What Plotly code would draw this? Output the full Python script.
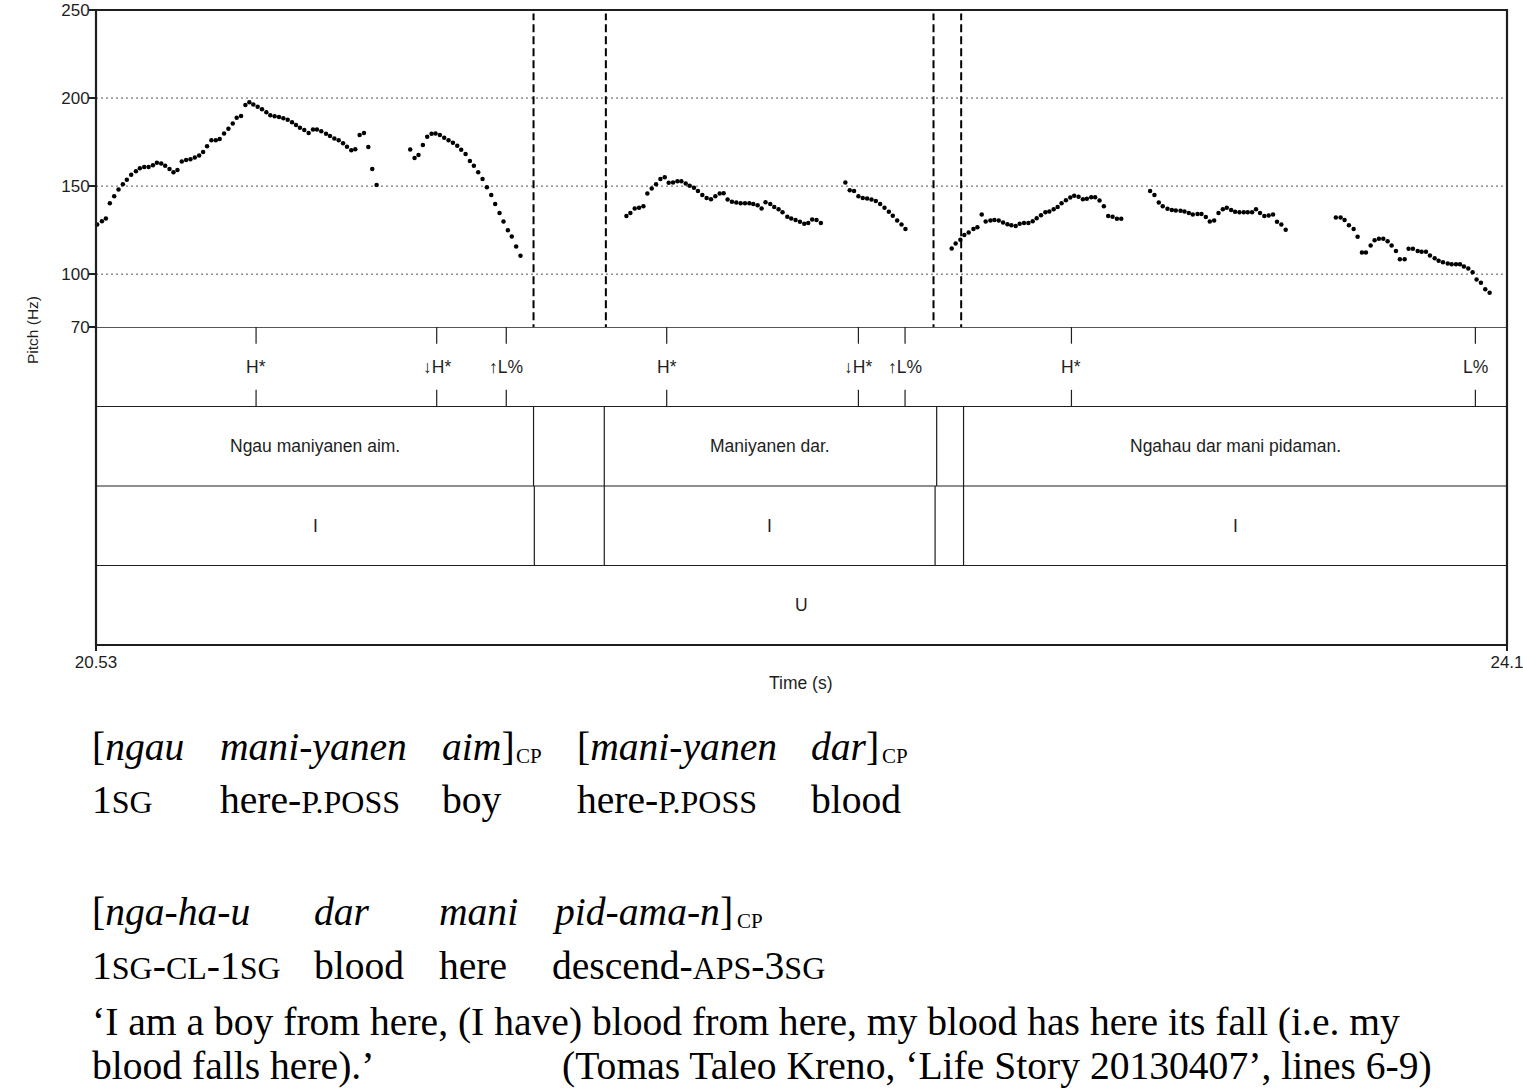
import plotly.graph_objects as go

W, H = 1523, 1092

# ---------------- pitch data (time s, Hz) ----------------
seg1_t = [20.533, 20.545, 20.555, 20.565, 20.576, 20.587, 20.598, 20.608, 20.619, 20.631,
          20.641, 20.652, 20.663, 20.674, 20.684, 20.695, 20.705, 20.716, 20.726, 20.736,
          20.747, 20.758, 20.769, 20.780, 20.791, 20.801, 20.811, 20.822, 20.833, 20.843,
          20.854, 20.865, 20.876, 20.886, 20.897, 20.908, 20.918, 20.928, 20.939, 20.950,
          20.961, 20.971, 20.982, 20.993, 21.004, 21.015, 21.026, 21.036, 21.046, 21.057,
          21.068, 21.079, 21.089, 21.100, 21.112, 21.122, 21.133, 21.144, 21.155, 21.165,
          21.176, 21.186, 21.197, 21.208, 21.219, 21.229, 21.240]
seg1_hz = [128.2, 130.1, 131.6, 140.2, 144.3, 148.1, 151.0, 153.6, 156.4, 158.5,
           160.2, 160.8, 160.8, 161.8, 163.2, 162.9, 161.5, 159.7, 157.8, 159.1,
           164.0, 164.8, 165.3, 166.3, 167.4, 169.3, 172.6, 176.0, 176.1, 176.7,
           179.9, 182.6, 185.6, 188.8, 189.8, 196.0, 197.6, 196.4, 195.1, 193.7,
           192.0, 190.3, 189.6, 189.2, 188.6, 187.7, 186.2, 184.7, 183.1, 181.8,
           180.1, 182.2, 182.2, 181.1, 179.7, 178.4, 177.1, 176.0, 174.3, 172.3,
           170.3, 171.0, 179.0, 180.1, 172.2, 159.7, 150.6]

seg2_t = [21.325, 21.336, 21.346, 21.357, 21.368, 21.379, 21.389, 21.400, 21.411, 21.422,
          21.433, 21.444, 21.454, 21.465, 21.476, 21.486, 21.497, 21.508, 21.519, 21.530,
          21.540, 21.551, 21.561, 21.572, 21.582, 21.593, 21.604]
seg2_hz = [170.8, 165.9, 167.6, 173.3, 178.0, 179.7, 179.9, 179.0, 177.4, 176.0,
           174.6, 172.9, 170.6, 168.2, 164.2, 161.5, 157.8, 154.0, 149.3, 144.9,
           139.8, 134.7, 129.9, 125.0, 121.4, 115.7, 110.4]

seg3_t = [21.872, 21.882, 21.893, 21.904, 21.915, 21.925, 21.936, 21.947, 21.958, 21.969,
          21.979, 21.990, 22.001, 22.011, 22.022, 22.032, 22.043, 22.053, 22.064, 22.075,
          22.086, 22.097, 22.108, 22.118, 22.128, 22.139, 22.150, 22.161, 22.172, 22.183,
          22.193, 22.204, 22.214, 22.224, 22.236, 22.246, 22.257, 22.267, 22.279, 22.289,
          22.300, 22.311, 22.322, 22.332, 22.342, 22.353, 22.364]
seg3_hz = [133.0, 134.8, 137.3, 137.7, 138.5, 145.8, 148.7, 151.1, 154.0, 155.1,
           151.9, 152.1, 152.8, 152.8, 151.5, 150.2, 149.0, 147.2, 144.9, 143.3,
           142.6, 144.3, 145.8, 146.0, 142.4, 141.1, 140.7, 140.3, 140.3, 140.2,
           139.9, 139.2, 137.3, 140.9, 139.8, 138.2, 136.8, 135.1, 132.6, 131.6,
           130.7, 129.7, 128.6, 129.1, 131.1, 130.7, 129.1]

seg4_t = [22.426, 22.437, 22.448, 22.459, 22.470, 22.481, 22.492, 22.503, 22.514, 22.525,
          22.536, 22.546, 22.557, 22.568, 22.578]
seg4_hz = [152.1, 147.7, 147.2, 144.3, 143.3, 143.0, 142.4, 141.5, 139.8, 137.7,
           135.4, 133.1, 130.5, 128.2, 125.6]

seg5_t = [22.695, 22.705, 22.717, 22.727, 22.738, 22.750, 22.760, 22.771, 22.781, 22.793,
          22.803, 22.814, 22.825, 22.836, 22.846, 22.857, 22.867, 22.878, 22.889, 22.900,
          22.910, 22.921, 22.932, 22.942, 22.953, 22.963, 22.973, 22.984, 22.995, 23.005,
          23.016, 23.027, 23.037, 23.048, 23.058, 23.069, 23.080, 23.091, 23.102, 23.113,
          23.124]
seg5_hz = [114.6, 117.4, 119.6, 122.2, 123.7, 125.7, 126.7, 133.9, 129.9, 130.5,
           130.8, 130.5, 129.4, 128.4, 127.8, 127.4, 128.6, 129.0, 129.1, 130.1,
           131.8, 133.5, 135.1, 135.6, 136.9, 138.2, 140.2, 142.0, 143.6, 144.5,
           143.9, 142.6, 142.8, 143.7, 143.7, 141.9, 138.6, 133.0, 132.6, 131.4,
           131.4]

seg6_t = [23.197, 23.208, 23.219, 23.229, 23.241, 23.252, 23.262, 23.274, 23.284, 23.295,
          23.305, 23.317, 23.327, 23.338, 23.348, 23.359, 23.370, 23.381, 23.391, 23.402,
          23.412, 23.423, 23.434, 23.444, 23.455, 23.465, 23.475, 23.486, 23.497, 23.508,
          23.518, 23.529, 23.540]
seg6_hz = [147.2, 144.9, 140.7, 138.5, 137.1, 136.5, 136.2, 136.0, 135.6, 134.8,
           133.9, 134.1, 134.1, 132.4, 129.9, 130.5, 134.8, 136.8, 137.7, 136.4,
           135.4, 135.1, 135.1, 135.2, 135.2, 136.8, 134.8, 133.0, 133.3, 133.9,
           129.7, 128.2, 125.2]

seg7_t = [23.667, 23.679, 23.689, 23.700, 23.712, 23.722, 23.733, 23.743, 23.755, 23.765,
          23.776, 23.787, 23.798, 23.808, 23.819, 23.829, 23.841, 23.851, 23.862, 23.874,
          23.884, 23.895, 23.905, 23.917, 23.927, 23.938, 23.950, 23.960, 23.971, 23.981,
          23.991, 24.002, 24.013, 24.023, 24.034, 24.045, 24.056]
seg7_hz = [132.2, 132.2, 130.7, 127.8, 125.7, 121.2, 112.3, 112.3, 116.3, 119.3,
           120.1, 120.1, 118.7, 116.3, 113.2, 108.5, 108.5, 114.4, 114.4, 113.2,
           112.7, 112.7, 110.6, 109.1, 107.6, 106.8, 106.1, 105.7, 105.7, 105.7,
           104.4, 103.2, 101.1, 97.0, 95.1, 91.5, 89.4]

segments_t = [seg1_t, seg2_t, seg3_t, seg4_t, seg5_t, seg6_t, seg7_t]
segments_hz = [seg1_hz, seg2_hz, seg3_hz, seg4_hz, seg5_hz, seg6_hz, seg7_hz]

# ---------------- axes values ----------------
t_start, t_end = 20.53, 24.1
hz_min, hz_max = 70, 250
hz_ticks = [70, 100, 150, 200, 250]
hz_grid = [100, 150, 200]
time_ticks = [20.53, 24.1]
time_ticklabels = ["20.53", "24.1"]

# pause boundaries shown as dashed lines in the pitch panel
pause_lines = [21.637, 21.820, 22.649, 22.719]

# ---------------- tiers ----------------
tone_times = [20.935, 21.392, 21.568, 21.974, 22.459, 22.577, 22.998, 24.020]
tone_labels = ["H*", "\u2193H*", "\u2191L%", "H*", "\u2193H*", "\u2191L%", "H*", "L%"]

sent_bounds = [21.637, 21.816, 22.657, 22.725]
sent_intervals = [(20.53, 21.637), (21.816, 22.657), (22.725, 24.1)]
sent_labels = ["Ngau maniyanen aim.", "Maniyanen dar.", "Ngahau dar mani pidaman."]

ip_bounds = [21.639, 21.816, 22.653, 22.725]
ip_intervals = [(20.53, 21.639), (21.816, 22.653), (22.725, 24.1)]
ip_labels = ["I", "I", "I"]

utt_intervals = [(20.53, 24.1)]
utt_labels = ["U"]

# ---------------- gloss text ----------------
SC_SIZE = 32


def sc(s, size=SC_SIZE):
    return '<span style="font-size:%dpx">%s</span>' % (size, s)


row1_words = ["[<i>ngau</i>", "<i>mani-yanen</i>", "<i>aim</i>]", "[<i>mani-yanen</i>", "<i>dar</i>]"]
row2_words = ["1" + sc("SG"), "here-" + sc("P.POSS"), "boy", "here-" + sc("P.POSS"), "blood"]
row3_words = ["[<i>nga-ha-u</i>", "<i>dar</i>", "<i>mani</i>", "<i>pid-ama-n</i>]"]
row4_words = ["1" + sc("SG") + "-" + sc("CL") + "-1" + sc("SG"), "blood", "here",
              "descend-" + sc("APS") + "-3" + sc("SG")]
free_line1 = "\u2018I am a boy from here, (I have) blood from here, my blood has here its fall (i.e. my"
free_line2 = ["blood falls here).\u2019",
              "(Tomas Taleo Kreno, \u2018Life Story 20130407\u2019, lines 6-9)"]
subscript_label = "CP"

# ---------------- layout geometry (pixels) ----------------
PX_L, PX_R = 96, 1507
PX_TOP, PX_MID, PX_BOT = 10, 327, 645


def px(x):
    return x / W


def py(y):
    return 1 - y / H


SANS = "Liberation Sans, Arial, sans-serif"
SERIF = "Liberation Serif, Times New Roman, serif"
INK = "#1e1e1e"

fig = go.Figure()

all_t = [t for seg in segments_t for t in seg]
all_hz = [h for seg in segments_hz for h in seg]
fig.add_trace(go.Scatter(
    x=all_t, y=all_hz, mode="markers",
    marker=dict(color="black", size=4.5, line=dict(width=0)),
    xaxis="x", yaxis="y", hoverinfo="skip", showlegend=False, cliponaxis=False))

shapes = []
for g in hz_grid:
    shapes.append(dict(type="line", xref="x domain", yref="y", x0=0, x1=1, y0=g, y1=g,
                       line=dict(color="#555", width=1, dash="2px,3px"), layer="below"))
for t in pause_lines:
    shapes.append(dict(type="line", xref="x", yref="y", x0=t, x1=t, y0=hz_min - 3, y1=hz_max - 2,
                       line=dict(color="black", width=2, dash="8px,4px")))
for yv, wdt in [(1, 1.2), (2, 1.2), (3, 1.2), (4, 1.6)]:
    shapes.append(dict(type="line", xref="x domain", yref="y2", x0=0, x1=1, y0=yv, y1=yv,
                       line=dict(color=INK, width=wdt)))
for t in tone_times:
    shapes.append(dict(type="line", xref="x", yref="y2", x0=t, x1=t, y0=4, y1=3.79,
                       line=dict(color=INK, width=1.2)))
    shapes.append(dict(type="line", xref="x", yref="y2", x0=t, x1=t, y0=3.21, y1=3,
                       line=dict(color=INK, width=1.2)))
for t in sent_bounds:
    shapes.append(dict(type="line", xref="x", yref="y2", x0=t, x1=t, y0=2, y1=3,
                       line=dict(color=INK, width=1.2)))
for t in ip_bounds:
    shapes.append(dict(type="line", xref="x", yref="y2", x0=t, x1=t, y0=1, y1=2,
                       line=dict(color=INK, width=1.2)))
shapes.append(dict(type="rect", xref="paper", yref="paper",
                   x0=px(PX_L), x1=px(PX_R), y0=py(PX_BOT), y1=py(PX_TOP),
                   line=dict(color=INK, width=2.2)))

annotations = []
for t, lab in zip(tone_times, tone_labels):
    annotations.append(dict(x=t, y=3.5, xref="x", yref="y2", text=lab, showarrow=False,
                            xanchor="center", font=dict(family=SANS, size=17.5, color=INK)))
for ivs, labs, yc in [(sent_intervals, sent_labels, 2.5), (ip_intervals, ip_labels, 1.5),
                      (utt_intervals, utt_labels, 0.5)]:
    for (a, b), lab in zip(ivs, labs):
        annotations.append(dict(x=(a + b) / 2, y=yc, xref="x", yref="y2", text=lab,
                                xanchor="center", showarrow=False,
                                font=dict(family=SANS, size=17.5, color=INK)))
annotations.append(dict(x=px(32), y=py(330), xref="paper", yref="paper", text="Pitch (Hz)",
                        textangle=-90, showarrow=False, xanchor="center", yanchor="middle",
                        font=dict(family=SANS, size=15.5, color=INK)))
annotations.append(dict(x=px(801), y=py(683), xref="paper", yref="paper", text="Time (s)",
                        showarrow=False, xanchor="center", yanchor="middle",
                        font=dict(family=SANS, size=17.5, color=INK)))


def add_row(words, xs, ycen, size=39.6):
    for w, xp in zip(words, xs):
        annotations.append(dict(x=px(xp), y=py(ycen), xref="paper", yref="paper", text=w,
                                xanchor="left", yanchor="middle", showarrow=False,
                                font=dict(family=SERIF, size=size, color="black")))


row12_x = [90, 218, 440, 575, 809]
row34_x = [90, 312, 437, 550]
add_row(row1_words, row12_x, 747)
add_row(row2_words, row12_x, 800)
add_row(row3_words, row34_x, 912)
add_row(row4_words, row34_x, 966)
add_row([free_line1], [90], 1022)
add_row(free_line2, [90, 560], 1066)
for xp, yc in [(514, 756), (880, 756), (735, 921)]:
    annotations.append(dict(x=px(xp), y=py(yc), xref="paper", yref="paper",
                            text=subscript_label, xanchor="left", yanchor="middle",
                            showarrow=False, font=dict(family=SERIF, size=21, color="black")))

fig.update_layout(
    width=W, height=H, autosize=False,
    margin=dict(l=0, r=0, t=0, b=0, pad=0, autoexpand=False),
    paper_bgcolor="white", plot_bgcolor="white",
    showlegend=False,
    xaxis=dict(domain=[px(PX_L), px(PX_R)], range=[t_start, t_end], anchor="y2",
               automargin=False, showgrid=False, zeroline=False, showline=False,
               tickmode="array", tickvals=time_ticks, ticktext=time_ticklabels,
               ticks="outside", ticklen=5, tickwidth=1.5, tickcolor=INK,
               ticklabeloverflow="allow", ticklabelstandoff=-3,
               tickfont=dict(family=SANS, size=17, color=INK)),
    yaxis=dict(domain=[py(PX_MID), py(PX_TOP)], range=[hz_min, hz_max], anchor="x",
               automargin=False, showgrid=False, zeroline=False, showline=False,
               tickmode="array", tickvals=hz_ticks,
               ticks="outside", ticklen=6, tickwidth=1.5, tickcolor=INK,
               ticklabeloverflow="allow", ticklabelstandoff=-4,
               tickfont=dict(family=SANS, size=17, color=INK)),
    yaxis2=dict(domain=[py(PX_BOT), py(PX_MID)], range=[0, 4], anchor="x",
                automargin=False, showgrid=False, zeroline=False, showline=False,
                showticklabels=False, ticks=""),
    shapes=shapes,
    annotations=annotations,
)

fig.write_html("out.html",
               config={"displayModeBar": False, "staticPlot": True},
               post_script="document.body.style.margin='0';document.body.style.overflow='hidden';")
